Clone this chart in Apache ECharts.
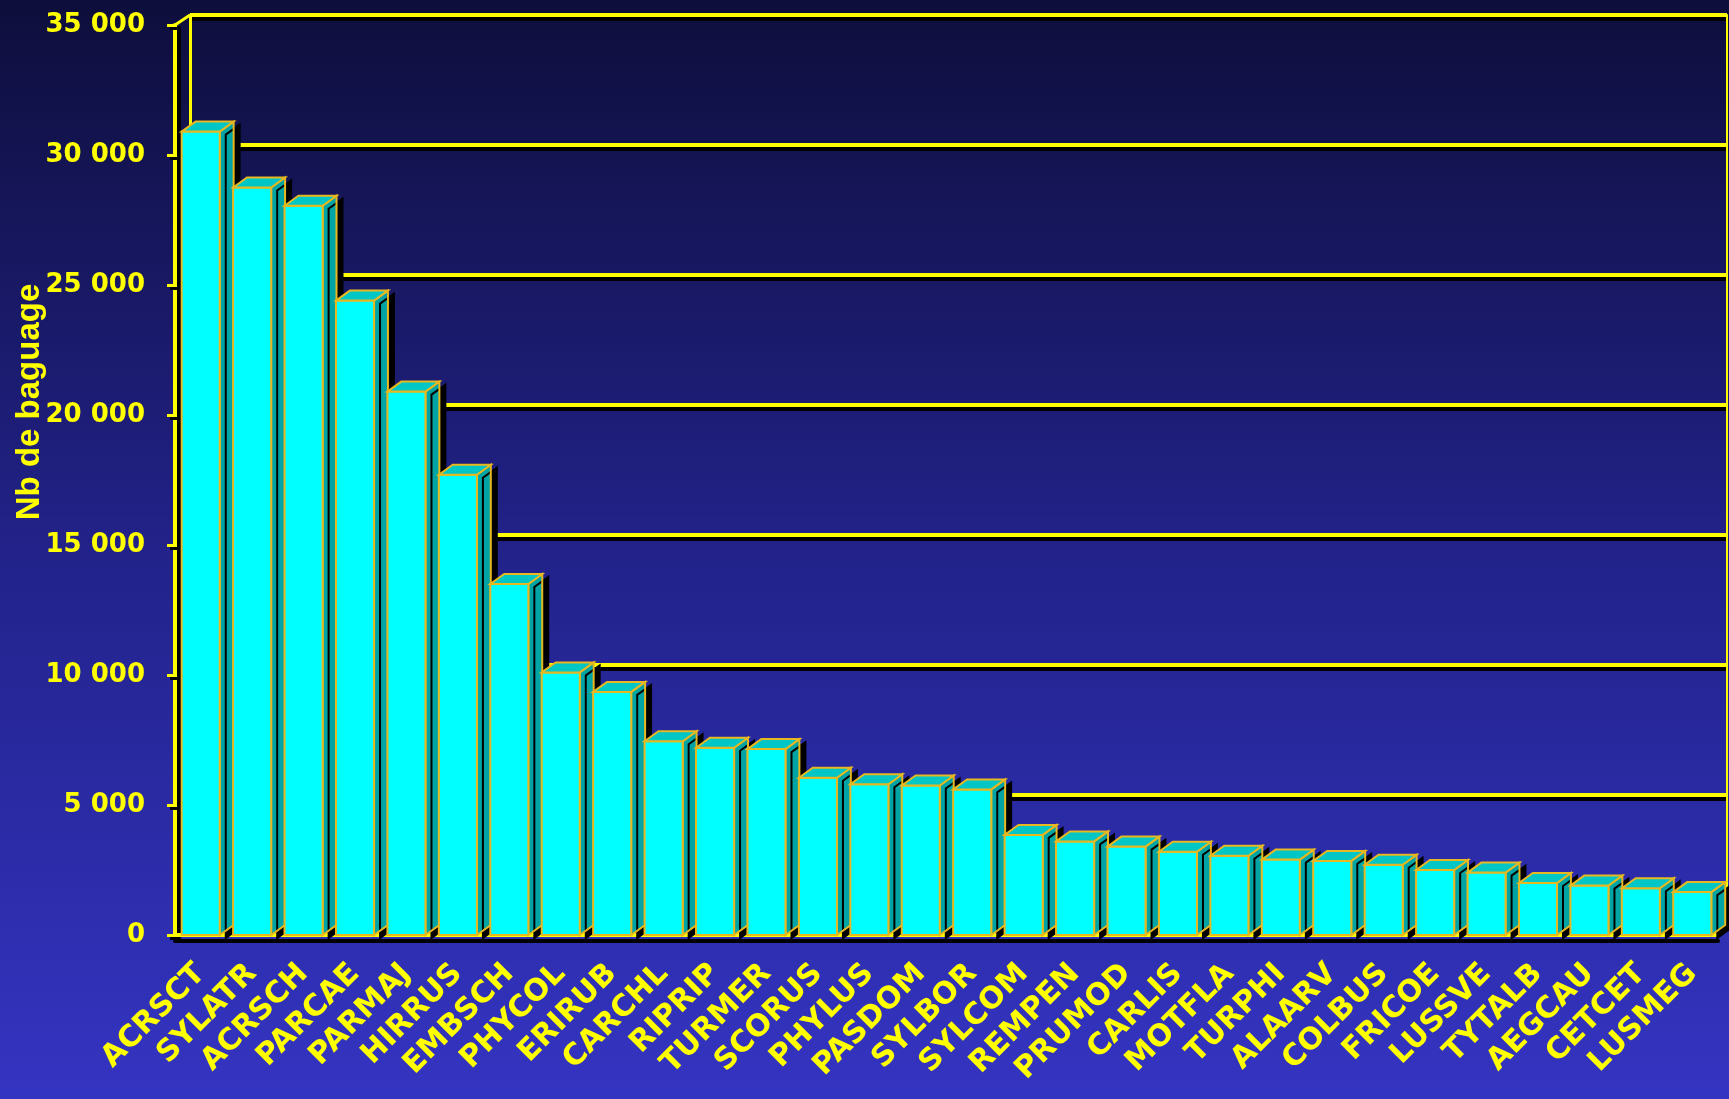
<!DOCTYPE html>
<html><head><meta charset="utf-8">
<script src="https://cdn.jsdelivr.net/npm/echarts@6/dist/echarts.min.js"></script>
<style>html,body{margin:0;padding:0;}#c{width:1729px;height:1099px;}</style>
</head><body><div id="c"></div>
<script>
const categories = ['ACRSCT','SYLATR','ACRSCH','PARCAE','PARMAJ','HIRRUS','EMBSCH','PHYCOL','ERIRUB','CARCHL','RIPRIP','TURMER','SCORUS','PHYLUS','PASDOM','SYLBOR','SYLCOM','REMPEN','PRUMOD','CARLIS','MOTFLA','TURPHI','ALAARV','COLBUS','FRICOE','LUSSVE','TYTALB','AEGCAU','CETCET','LUSMEG'];
const values = [30900,28750,28050,24400,20900,17700,13500,10100,9350,7450,7200,7150,6050,5800,5750,5600,3850,3600,3400,3200,3050,2900,2850,2700,2500,2400,2000,1900,1800,1650];
const yMin = 0, yMax = 35000, yInterval = 5000;
const axisTitle = 'Nb de baguage';

const YEL = '#ffff00';
const fmt = v => String(v).replace(/\B(?=(\d{3})+(?!\d))/g, ' ');

const chart = echarts.init(document.getElementById('c'));

function renderBar(params, api) {
  const idx = params.dataIndex;
  const v = api.value(1);
  const top = api.coord([idx, v]);
  const base = api.coord([idx, 0]);
  const bw = api.size([1, 0])[0];
  const x0 = top[0] - bw / 2 + bw * 0.13;
  const w = bw * 0.74;
  const dx = bw * 0.27, dy = -10;
  const stroke = '#e8b820';
  const children = [
    {type: 'polygon', shape: {points: [[x0 + w, top[1]], [x0 + w + dx, top[1] + dy], [x0 + w + dx, base[1] + dy], [x0 + w, base[1]]]},
     style: {fill: '#00a4a4', stroke: stroke, lineWidth: 2, shadowColor: '#000', shadowOffsetX: 6, shadowOffsetY: 3, shadowBlur: 0}},
    {type: 'rect', shape: {x: x0, y: top[1], width: w, height: base[1] - top[1]},
     style: {fill: '#00ffff', stroke: stroke, lineWidth: 2}},
    {type: 'polygon', shape: {points: [[x0, top[1]], [x0 + dx, top[1] + dy], [x0 + w + dx, top[1] + dy], [x0 + w, top[1]]]},
     style: {fill: '#00c6c6', stroke: stroke, lineWidth: 2}}
  ];
  if (idx === 0) {
    const t = api.coord([0, yMax]);
    const ax = t[0] - bw / 2;
    children.unshift({type: 'line', shape: {x1: ax, y1: t[1], x2: ax + 15, y2: t[1] - 10},
      style: {stroke: YEL, lineWidth: 3}});
  }
  return {type: 'group', children: children};
}

const labelShadow = {textShadowColor: '#000', textShadowOffsetX: 3, textShadowOffsetY: 3, textShadowBlur: 0};

chart.setOption({
  animation: false,
  backgroundColor: new echarts.graphic.LinearGradient(0, 0, 0, 1, [
    {offset: 0, color: '#0e0e3c'}, {offset: 0.5, color: '#22228a'}, {offset: 1, color: '#3434c2'}
  ]),
  grid: [
    {left: 175, right: 11, top: 25, bottom: 164},
    {left: 190, right: 2, top: 15, bottom: 174}
  ],
  xAxis: [
    {type: 'category', data: categories, gridIndex: 0,
     axisLine: {lineStyle: {color: YEL, width: 4, shadowColor: '#000', shadowOffsetY: 6, shadowOffsetX: 0}},
     axisTick: {length: 12, lineStyle: {color: YEL, width: 3, shadowColor: '#000', shadowOffsetX: 5, shadowOffsetY: 4}},
     axisLabel: Object.assign({rotate: 45, margin: 34, color: YEL, fontFamily: 'DejaVu Sans', fontWeight: 'bold', fontSize: 30, interval: 0}, labelShadow)},
    {type: 'category', data: categories, gridIndex: 1, show: false}
  ],
  yAxis: [
    {type: 'value', gridIndex: 0, min: yMin, max: yMax, interval: yInterval,
     axisLine: {show: true, lineStyle: {color: YEL, width: 4, shadowColor: '#000', shadowOffsetX: 4, shadowOffsetY: 3}},
     axisTick: {show: true, length: 8, lineStyle: {color: YEL, width: 3, shadowColor: '#000', shadowOffsetX: 3, shadowOffsetY: 3}},
     splitLine: {show: false},
     axisLabel: Object.assign({margin: 30, color: YEL, fontFamily: 'DejaVu Sans', fontWeight: 'bold', fontSize: 26, formatter: fmt}, labelShadow)},
    {type: 'value', gridIndex: 1, min: yMin, max: yMax, interval: yInterval, position: 'left',
     axisLine: {show: true, lineStyle: {color: YEL, width: 3}},
     axisTick: {show: false}, axisLabel: {show: false},
     splitLine: {show: true, lineStyle: {color: YEL, width: 4, shadowColor: '#000', shadowOffsetY: 4, shadowBlur: 0}}},
    {type: 'value', gridIndex: 1, min: yMin, max: yMax, interval: yInterval, position: 'right',
     axisLine: {show: true, lineStyle: {color: YEL, width: 2}},
     axisTick: {show: false}, axisLabel: {show: false}, splitLine: {show: false}}
  ],
  graphic: [{
    type: 'text', x: 30, y: 402, rotation: Math.PI / 2, z: 10,
    style: {text: axisTitle, fill: YEL, font: 'bold 33px "Liberation Sans"', align: 'center', verticalAlign: 'middle',
            shadowColor: '#000', shadowOffsetX: 3, shadowOffsetY: 3}
  }],
  series: [
    {type: 'custom', xAxisIndex: 0, yAxisIndex: 0, clip: false, z: 5,
     renderItem: renderBar,
     data: values.map((v, i) => [i, v])}
  ]
});
</script></body></html>
